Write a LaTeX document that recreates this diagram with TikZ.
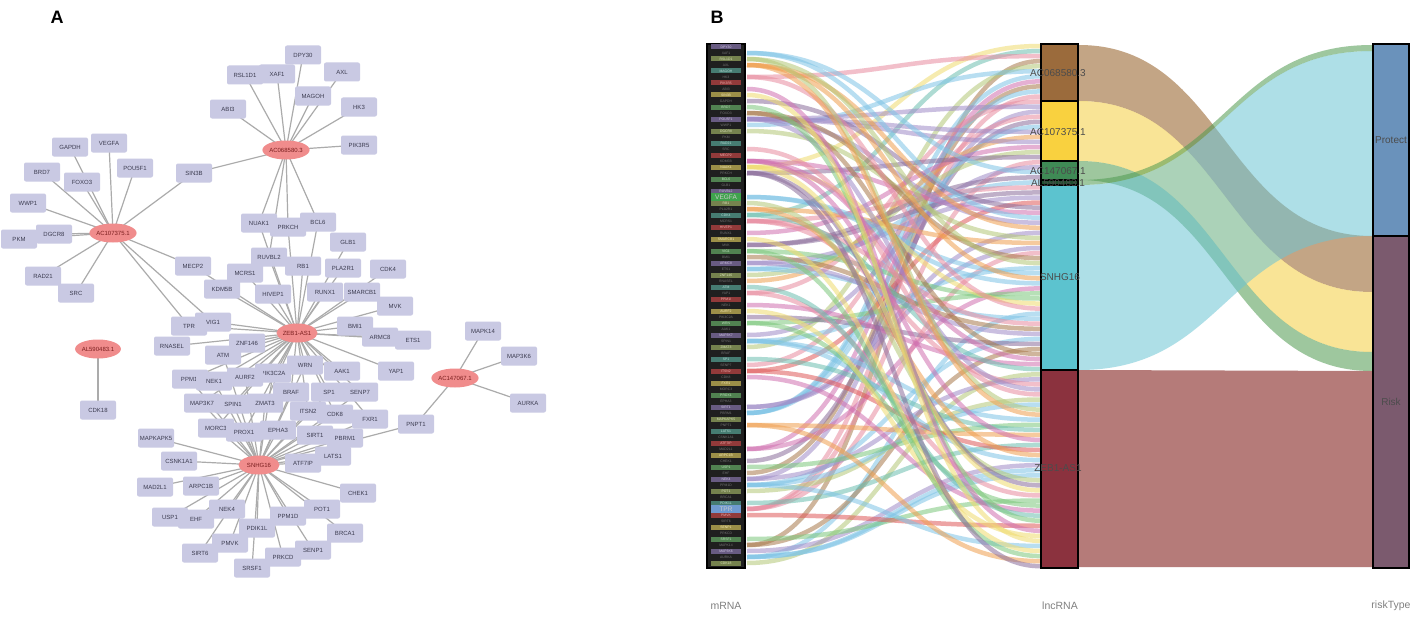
\documentclass[tikz,border=0pt]{standalone}
\usepackage{fontspec}
\setmainfont{Liberation Sans}
\usetikzlibrary{shapes.geometric}
\pgfdeclarelayer{back}
\pgfdeclarelayer{bg}
\pgfsetlayers{back,bg,main}
\definecolor{boxc}{HTML}{C9C9E3}
\definecolor{hubc}{HTML}{F08C8C}
\definecolor{edgec}{HTML}{ABABAB}
\definecolor{gtxt}{HTML}{3C3C50}
\definecolor{htxt}{HTML}{7A1E1E}
\definecolor{lc0}{HTML}{A08CC8}
\definecolor{lc1}{HTML}{E88CA0}
\definecolor{lc2}{HTML}{7CC87C}
\definecolor{lc3}{HTML}{F0A050}
\definecolor{lc4}{HTML}{F0DC6E}
\definecolor{lc5}{HTML}{7EC4E6}
\definecolor{lc6}{HTML}{E05A5A}
\definecolor{lc7}{HTML}{A87A4C}
\definecolor{lc8}{HTML}{6CBFB0}
\definecolor{lc9}{HTML}{8C6E9C}
\definecolor{lc10}{HTML}{B4C878}
\definecolor{lc11}{HTML}{D070B0}
\definecolor{segA}{HTML}{9B6B3C}
\definecolor{segB}{HTML}{F9D13F}
\definecolor{segC}{HTML}{3F8A55}
\definecolor{segD}{HTML}{1F4F2F}
\definecolor{segE}{HTML}{5CC3CF}
\definecolor{segF}{HTML}{8B323E}
\definecolor{protc}{HTML}{6A92BB}
\definecolor{riskc}{HTML}{7B5A6E}
\definecolor{bandA}{HTML}{9C6A35}
\definecolor{bandB}{HTML}{F5CF40}
\definecolor{bandC}{HTML}{4F9A50}
\definecolor{bandE}{HTML}{6CC5D4}
\definecolor{bandF}{HTML}{B57B79}
\definecolor{vegc}{HTML}{3FA34D}
\definecolor{tprc}{HTML}{6F9AD0}
\begin{document}
\begin{tikzpicture}[x=1pt,y=-1pt,
  gene/.style={rectangle, rounded corners=2pt, fill=boxc, minimum width=36, minimum height=19, inner sep=1pt, font=\fontsize{6}{7}\selectfont, text=gtxt},
  hub/.style={ellipse, fill=hubc, minimum width=41, minimum height=19, inner sep=0pt, font=\fontsize{6}{7}\selectfont, text=htxt},
  edge/.style={draw=edgec, line width=1.2pt},
  flow/.style={line width=4.5pt, opacity=0.55},
  seg/.style={draw=black, line width=2.6pt},
  lnc/.style={font=\fontsize{10}{12}\selectfont, text=black!70},
  axl/.style={font=\fontsize{10.5}{12}\selectfont, text=black!50},
  mlab/.style={font=\fontsize{3.4}{3.4}\selectfont, inner sep=0.4pt, minimum width=30, minimum height=5},
  big/.style={font=\fontsize{6.5}{6.5}\selectfont, inner sep=0.5pt, minimum width=30, minimum height=9, text=white!80!black},
  panel/.style={font=\fontsize{18}{20}\selectfont\bfseries}]
\useasboundingbox (0,0) rectangle (1417,618);
\begin{pgfonlayer}{back}
\fill[white] (0,0) rectangle (1417,618);
\end{pgfonlayer}
\node[panel] (pA) at (57,17) {A};
\node[panel] (pB) at (717,17) {B};
% ---------------- Panel A ----------------
\node[gene] (RSL1D1) at (245,75) {RSL1D1};
\node[gene] (XAF1) at (277,74) {XAF1};
\node[gene] (DPY30) at (303,55) {DPY30};
\node[gene] (AXL) at (342,72) {AXL};
\node[gene] (MAGOH) at (313,96) {MAGOH};
\node[gene] (ABI3) at (228,109) {ABI3};
\node[gene] (HK3) at (359,107) {HK3};
\node[gene] (PIK3R5) at (359,145) {PIK3R5};
\node[gene] (GAPDH) at (70,147) {GAPDH};
\node[gene] (VEGFA) at (109,143) {VEGFA};
\node[gene] (BRD7) at (42,172) {BRD7};
\node[gene] (FOXO3) at (82,182) {FOXO3};
\node[gene] (POU5F1) at (135,168) {POU5F1};
\node[gene] (SIN3B) at (194,173) {SIN3B};
\node[gene] (WWP1) at (28,203) {WWP1};
\node[gene] (PKM) at (19,239) {PKM};
\node[gene] (DGCR8) at (54,234) {DGCR8};
\node[gene] (RAD21) at (43,276) {RAD21};
\node[gene] (SRC) at (76,293) {SRC};
\node[gene] (MECP2) at (193,266) {MECP2};
\node[gene] (NUAK1) at (259,223) {NUAK1};
\node[gene] (PRKCH) at (288,227) {PRKCH};
\node[gene] (BCL6) at (318,222) {BCL6};
\node[gene] (GLB1) at (348,242) {GLB1};
\node[gene] (RUVBL2) at (269,257) {RUVBL2};
\node[gene] (RB1) at (303,266) {RB1};
\node[gene] (PLA2R1) at (343,268) {PLA2R1};
\node[gene] (CDK4) at (388,269) {CDK4};
\node[gene] (MCRS1) at (245,273) {MCRS1};
\node[gene] (KDM5B) at (222,289) {KDM5B};
\node[gene] (HIVEP1) at (273,294) {HIVEP1};
\node[gene] (RUNX1) at (325,292) {RUNX1};
\node[gene] (SMARCB1) at (362,292) {SMARCB1};
\node[gene] (MVK) at (395,306) {MVK};
\node[gene] (TPR) at (189,326) {TPR};
\node[gene] (VIG1) at (213,322) {VIG1};
\node[gene] (ARMC8) at (380,337) {ARMC8};
\node[gene] (BMI1) at (355,326) {BMI1};
\node[gene] (ETS1) at (413,340) {ETS1};
\node[gene] (YAP1) at (396,371) {YAP1};
\node[gene] (RNASEL) at (172,346) {RNASEL};
\node[gene] (ZNF146) at (247,343) {ZNF146};
\node[gene] (ATM) at (223,355) {ATM};
\node[gene] (PPM1I) at (190,379) {PPM1I};
\node[gene] (PIK3C2A) at (273,373) {PIK3C2A};
\node[gene] (AURF2) at (245,377) {AURF2};
\node[gene] (NEK1) at (214,381) {NEK1};
\node[gene] (WRN) at (305,365) {WRN};
\node[gene] (AAK1) at (342,371) {AAK1};
\node[gene] (MAP3K7) at (202,403) {MAP3K7};
\node[gene] (SPIN1) at (233,404) {SPIN1};
\node[gene] (ZMAT3) at (265,403) {ZMAT3};
\node[gene] (BRAF) at (291,392) {BRAF};
\node[gene] (SP1) at (329,392) {SP1};
\node[gene] (SENP7) at (360,392) {SENP7};
\node[gene] (ITSN2) at (308,411) {ITSN2};
\node[gene] (CDK8) at (335,414) {CDK8};
\node[gene] (FXR1) at (370,419) {FXR1};
\node[gene] (MORC3) at (216,428) {MORC3};
\node[gene] (PROX1) at (244,432) {PROX1};
\node[gene] (EPHA3) at (278,430) {EPHA3};
\node[gene] (SIRT1) at (315,435) {SIRT1};
\node[gene] (PBRM1) at (345,438) {PBRM1};
\node[gene] (MAPKAPK5) at (156,438) {MAPKAPK5};
\node[gene] (PNPT1) at (416,424) {PNPT1};
\node[gene] (LATS1) at (333,456) {LATS1};
\node[gene] (ATF7IP) at (303,463) {ATF7IP};
\node[gene] (CSNK1A1) at (179,461) {CSNK1A1};
\node[gene] (MAD2L1) at (155,487) {MAD2L1};
\node[gene] (ARPC1B) at (201,486) {ARPC1B};
\node[gene] (CHEK1) at (358,493) {CHEK1};
\node[gene] (USP1) at (170,517) {USP1};
\node[gene] (EHF) at (196,519) {EHF};
\node[gene] (NEK4) at (227,509) {NEK4};
\node[gene] (PPM1D) at (288,516) {PPM1D};
\node[gene] (POT1) at (322,509) {POT1};
\node[gene] (BRCA1) at (345,533) {BRCA1};
\node[gene] (PDIK1L) at (257,528) {PDIK1L};
\node[gene] (PMVK) at (230,543) {PMVK};
\node[gene] (SIRT6) at (200,553) {SIRT6};
\node[gene] (SENP1) at (313,550) {SENP1};
\node[gene] (PRKCD) at (283,557) {PRKCD};
\node[gene] (SRSF1) at (252,568) {SRSF1};
\node[gene] (MAPK14) at (483,331) {MAPK14};
\node[gene] (MAP3K6) at (519,356) {MAP3K6};
\node[gene] (AURKA) at (528,403) {AURKA};
\node[gene] (CDK18) at (98,410) {CDK18};
\node[hub] (h1) at (286,150) {AC068580.3};
\node[hub] (h2) at (113,233) {AC107375.1};
\node[hub] (h3) at (297,333) {ZEB1-AS1};
\node[hub] (h4) at (259,465) {SNHG16};
\node[hub] (h5) at (455,378) {AC147067.1};
\node[hub] (h6) at (98,349) {AL590483.1};
\begin{pgfonlayer}{bg}
\foreach \t in {DPY30,XAF1,RSL1D1,AXL,MAGOH,HK3,PIK3R5,ABI3,SIN3B,NUAK1,PRKCH,RUVBL2,BCL6}
  \draw[edge] (h1.center) -- (\t.center);
\foreach \t in {GAPDH,VEGFA,BRD7,FOXO3,POU5F1,WWP1,DGCR8,PKM,RAD21,SRC,SIN3B,MECP2,TPR,VIG1}
  \draw[edge] (h2.center) -- (\t.center);
\foreach \t in {NUAK1,PRKCH,BCL6,GLB1,RUVBL2,RB1,PLA2R1,CDK4,MECP2,MCRS1,KDM5B,HIVEP1,RUNX1,SMARCB1,MVK,TPR,VIG1,BMI1,ARMC8,ETS1,YAP1,ZNF146,RNASEL,ATM,PPM1I,NEK1,AURF2,PIK3C2A,WRN,AAK1,SP1,SENP7,BRAF,CDK8,FXR1,ITSN2,ZMAT3,SPIN1,MAP3K7,MORC3,PROX1}
  \draw[edge] (h3.center) -- (\t.center);
\foreach \t in {MAPKAPK5,CSNK1A1,MAD2L1,ARPC1B,USP1,EHF,NEK4,PDIK1L,PMVK,SIRT6,SRSF1,PRKCD,SENP1,PPM1D,POT1,BRCA1,CHEK1,ATF7IP,LATS1,PBRM1,SIRT1,EPHA3,PROX1,MORC3,MAP3K7,SPIN1,ZMAT3,ITSN2,CDK8,PNPT1,NEK1,PPM1I,AURF2,PIK3C2A,BRAF,WRN,SP1,FXR1,SENP7,ATM}
  \draw[edge] (h4.center) -- (\t.center);
\foreach \t in {MAPK14,MAP3K6,AURKA,PNPT1}
  \draw[edge] (h5.center) -- (\t.center);
\draw[edge] (h6.center) -- (CDK18.center);
\end{pgfonlayer}
% ---------------- Panel B ----------------
% flows mRNA -> lncRNA
\pgfmathsetseed{42}
\foreach \i in {0,...,103}{
  \pgfmathtruncatemacro\L{int(rnd*87)}
  \pgfmathtruncatemacro\ci{mod(\L*5,12)}
  \pgfmathsetmacro\ya{47+6*\L}
  \pgfmathsetmacro\yb{46+\i*5.05}
  \draw[flow, draw=lc\ci] (747,\ya) .. controls (893,\ya) and (893,\yb) .. (1040,\yb);
}
% bands lncRNA -> riskType
\fill[bandF] (1079,370) .. controls (1225,370) and (1225,371) .. (1372,371) -- (1372,567) .. controls (1225,567) and (1225,567) .. (1079,567) -- cycle;
\fill[bandA, opacity=0.6] (1079,45) .. controls (1225,45) and (1225,236) .. (1372,236) -- (1372,292) .. controls (1225,292) and (1225,101) .. (1079,101) -- cycle;
\fill[bandB, opacity=0.55] (1079,101) .. controls (1225,101) and (1225,292) .. (1372,292) -- (1372,352) .. controls (1225,352) and (1225,161) .. (1079,161) -- cycle;
\fill[bandC, opacity=0.55] (1079,161) .. controls (1225,161) and (1225,352) .. (1372,352) -- (1372,371) .. controls (1225,371) and (1225,180) .. (1079,180) -- cycle;
\fill[bandE, opacity=0.55] (1079,185) .. controls (1225,185) and (1225,51) .. (1372,51) -- (1372,236) .. controls (1225,236) and (1225,370) .. (1079,370) -- cycle;
\fill[bandC, opacity=0.55] (1079,180) .. controls (1225,180) and (1225,45) .. (1372,45) -- (1372,51) .. controls (1225,51) and (1225,185) .. (1079,185) -- cycle;
% mRNA column
\draw[seg, fill=black!88] (707,44) rectangle (745,568);
\foreach \g [count=\k from 0] in {DPY30,XAF1,RSL1D1,AXL,MAGOH,HK3,PIK3R5,ABI3,SIN3B,GAPDH,BRD7,FOXO3,POU5F1,WWP1,DGCR8,PKM,RAD21,SRC,MECP2,KDM5B,NUAK1,PRKCH,BCL6,GLB1,RUVBL2,VEGFA,RB1,PLA2R1,CDK4,MCRS1,HIVEP1,RUNX1,SMARCB1,MVK,VIG1,BMI1,ARMC8,ETS1,ZNF146,RNASEL,ATM,YAP1,PPM1I,NEK1,AURF2,PIK3C2A,WRN,AAK1,MAP3K7,SPIN1,ZMAT3,BRAF,SP1,SENP7,ITSN2,CDK8,FXR1,MORC3,PROX1,EPHA3,SIRT1,PBRM1,MAPKAPK5,PNPT1,LATS1,CSNK1A1,ATF7IP,MAD2L1,ARPC1B,CHEK1,USP1,EHF,NEK4,PPM1D,POT1,BRCA1,PDIK1L,TPR,PMVK,SIRT6,SENP1,PRKCD,SRSF1,MAPK14,MAP3K6,AURKA,CDK18}{
  \pgfmathtruncatemacro\ci{mod(\k*5,12)}
  \pgfmathtruncatemacro\od{mod(\k,2)}
  \pgfmathsetmacro\yy{47+6*\k}
  \ifnum\k=25 \node[big, fill=vegc] at (726,\yy) {\g};
  \else\ifnum\k=77 \node[big, fill=tprc] at (726,\yy) {\g};
  \else\ifnum\od=0 \node[mlab, fill=lc\ci!65!black, text=lc\ci!50!white] at (726,\yy) {\g};
  \else \node[mlab, text=black!55] at (726,\yy) {\g};
  \fi\fi\fi
}
% lncRNA column
\draw[seg, fill=segA] (1041,44) rectangle (1078,101);
\draw[seg, fill=segB] (1041,101) rectangle (1078,161);
\draw[seg, fill=segC] (1041,161) rectangle (1078,180);
\draw[seg, fill=segD] (1041,180) rectangle (1078,185);
\draw[seg, fill=segE] (1041,185) rectangle (1078,370);
\draw[seg, fill=segF] (1041,370) rectangle (1078,568);
\node[lnc] (l1) at (1058,73) {AC068580.3};
\node[lnc] (l2) at (1058,132) {AC107375.1};
\node[lnc] (l3) at (1058,171) {AC147067.1};
\node[lnc] (l4) at (1058,183) {AL590483.1};
\node[lnc] (l5) at (1060,277) {SNHG16};
\node[lnc] (l6) at (1058,468) {ZEB1-AS1};
% riskType column
\draw[seg, fill=protc] (1373,44) rectangle (1409,236);
\draw[seg, fill=riskc] (1373,236) rectangle (1409,568);
\node[lnc] (r1) at (1391,140) {Protect};
\node[lnc] (r2) at (1391,402) {Risk};
% axis labels
\node[axl] (x1) at (726,606) {mRNA};
\node[axl] (x2) at (1060,606) {lncRNA};
\node[axl] (x3) at (1391,606) {riskType};
\end{tikzpicture}
\end{document}
